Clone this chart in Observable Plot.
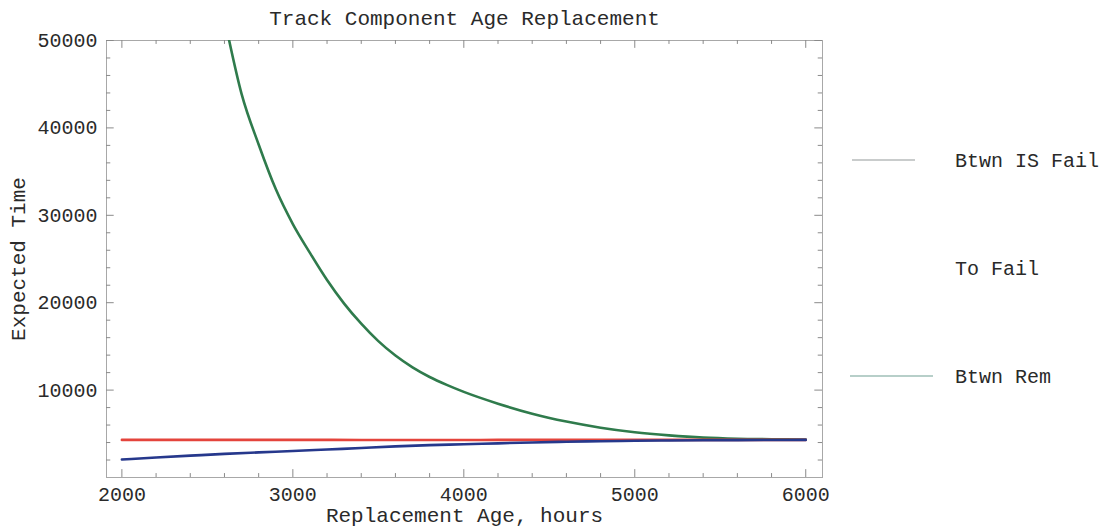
<!DOCTYPE html>
<html><head><meta charset="utf-8">
<script src="https://cdn.jsdelivr.net/npm/d3@7"></script>
<script src="https://cdn.jsdelivr.net/npm/@observablehq/plot@0.6"></script>
<style>
body{margin:0;background:#fff}
#chart{width:1112px;height:528px}
</style>
</head><body><div id="chart"></div>
<script>
const chartTitle = "Track Component Age Replacement";
const xLabel = "Replacement Age, hours";
const yLabel = "Expected Time";
const seriesNames = ["Btwn IS Fail", "To Fail", "Btwn Rem"];
const seriesColors = ["#2f7b4c", "#e4443c", "#26388c"];
const legendLineColors = ["#c9cccc", null, "#b7cfc9"];

const xTicks = [2000, 3000, 4000, 5000, 6000];
const xMinorTicks = [2000,2200,2400,2600,2800,3000,3200,3400,3600,3800,4000,4200,4400,4600,4800,5000,5200,5400,5600,5800,6000];
const yTicks = [10000, 20000, 30000, 40000, 50000];
const yMinorTicks = [2000,4000,6000,8000,10000,12000,14000,16000,18000,20000,22000,24000,26000,28000,30000,32000,34000,36000,38000,40000,42000,44000,46000,48000,50000];

// Btwn IS Fail (green)
const isFailAge = [2500,2600,2700,2800,2900,3000,3100,3200,3300,3400,3500,3600,3700,3800,3900,4000,4200,4400,4600,4800,5000,5200,5400,5600,5800,6000];
const isFailTime = [62000,52500,43900,38100,33000,29000,25700,22600,19900,17600,15600,13950,12600,11500,10600,9800,8450,7300,6400,5700,5180,4820,4560,4430,4380,4340];

// To Fail (red) and Btwn Rem (blue)
const age = [2000,2200,2400,2600,2800,3000,3200,3400,3600,3800,4000,4200,4400,4600,4800,5000,5200,5400,5600,5800,6000];
const toFailTime = [4300,4300,4300,4300,4300,4300,4300,4290,4290,4290,4290,4300,4300,4300,4300,4300,4300,4300,4300,4300,4300];
const btwnRemTime = [2060,2290,2500,2700,2870,3030,3200,3380,3560,3700,3800,3910,4010,4090,4150,4200,4240,4265,4282,4293,4300];

const xDomain = [1910, 6098];
const yDomain = [0, 50000];

const rows = [
  ...isFailAge.map((a, i) => ({series: seriesNames[0], age: a, t: isFailTime[i]})),
  ...age.map((a, i) => ({series: seriesNames[1], age: a, t: toFailTime[i]})),
  ...age.map((a, i) => ({series: seriesNames[2], age: a, t: btwnRemTime[i]}))
];

const font = "'Liberation Mono', 'Courier New', monospace";
const textColor = "#2a2a2a";
const tickColor = "#8a8a8a";
const majX = 900, minX = 450;   // tick lengths in data units
const majY = 45, minY = 25;

const plot = Plot.plot({
  width: 1112, height: 528,
  marginLeft: 106, marginRight: 290, marginTop: 40, marginBottom: 51,
  style: {fontFamily: font, fontSize: "20px", color: textColor, background: "#fff"},
  x: {domain: xDomain},
  y: {domain: yDomain},
  marks: [
    Plot.frame({stroke: "#a8a8a8", strokeWidth: 1}),
    Plot.ruleX(xMinorTicks, {x: d => d, y1: yDomain[0], y2: d => yDomain[0] + (xTicks.includes(d) ? majX : minX), stroke: tickColor}),
    Plot.ruleX(xMinorTicks, {x: d => d, y1: yDomain[1], y2: d => yDomain[1] - (xTicks.includes(d) ? majX : minX), stroke: tickColor}),
    Plot.ruleY(yMinorTicks, {y: d => d, x1: xDomain[0], x2: d => xDomain[0] + (yTicks.includes(d) ? majY : minY), stroke: tickColor}),
    Plot.ruleY(yMinorTicks, {y: d => d, x1: xDomain[1], x2: d => xDomain[1] - (yTicks.includes(d) ? majY : minY), stroke: tickColor}),
    Plot.axisX(xTicks, {tickSize: 0, tickPadding: 9, fontSize: 20, tickFormat: d => String(d), label: null}),
    Plot.axisX({ticks: [], tickSize: 0, fontSize: 21, label: xLabel, labelAnchor: "center", labelOffset: 44, labelArrow: "none"}),
    Plot.axisY(yTicks, {tickSize: 0, tickPadding: 9, fontSize: 20, tickFormat: d => String(d), label: null}),
    Plot.axisY({ticks: [], tickSize: 0, fontSize: 21, label: yLabel, labelAnchor: "center", labelOffset: 96, labelArrow: "none"}),
    Plot.line(rows, {x: "age", y: "t", z: "series", stroke: "series", strokeWidth: 2.6, curve: "monotone-x", clip: true}),
    Plot.text([chartTitle], {frameAnchor: "top", dy: -16, fontSize: 21, fill: textColor, lineAnchor: "bottom"})
  ],
  color: {domain: seriesNames, range: seriesColors}
});

document.getElementById("chart").appendChild(plot);

// legend in the right margin
const svg = d3.select(plot);
const lg = svg.append("g").attr("font-family", font).attr("font-size", 20).attr("fill", textColor).attr("text-anchor", "start");
const legendY = [160, 268, 376];
const legendLineX = [[852, 915], null, [850, 933]];
seriesNames.forEach((name, i) => {
  if (legendLineColors[i]) {
    lg.append("line").attr("x1", legendLineX[i][0]).attr("x2", legendLineX[i][1])
      .attr("y1", legendY[i]).attr("y2", legendY[i])
      .attr("stroke", legendLineColors[i]).attr("stroke-width", 2);
  }
  lg.append("text").attr("x", 955).attr("y", legendY[i]).attr("dy", "0.35em").attr("text-anchor", "start").text(name);
});
</script>
</body></html>
